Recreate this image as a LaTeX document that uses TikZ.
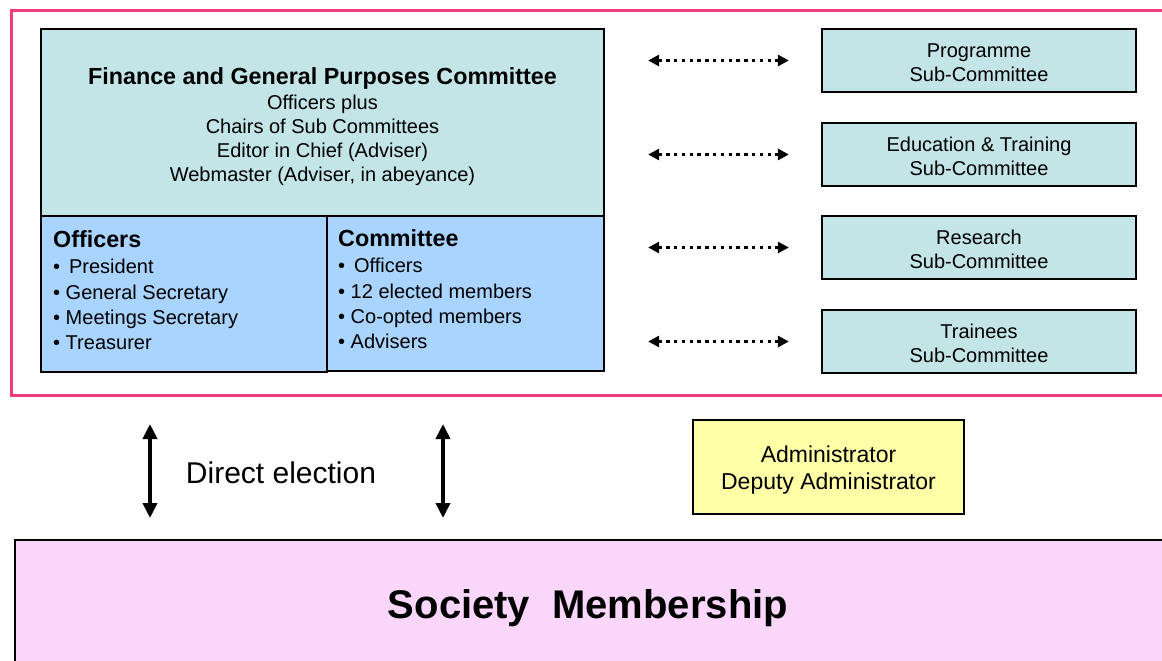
\documentclass[tikz,border=0pt]{standalone}
\usepackage{fontspec}
\setmainfont{Liberation Sans}
\usetikzlibrary{arrows.meta}
\definecolor{framepink}{RGB}{238,60,122}
\definecolor{teal}{RGB}{196,229,231}
\definecolor{lblue}{RGB}{168,212,255}
\definecolor{lyellow}{RGB}{255,255,168}
\definecolor{lpink}{RGB}{251,214,251}
\tikzset{
  box/.style={draw=black, line width=2.3pt, inner sep=0pt, align=center},
  tealbox/.style={box, fill=teal},
  bluebox/.style={box, fill=lblue},
  listtext/.style={inner sep=0pt, align=left, anchor=north west, font=\fontsize{20}{25.3}\selectfont},
  subtext/.style={font=\fontsize{20}{23.5}\selectfont},
  dotarrow/.style={line width=3.4pt, dash pattern=on 3.4pt off 4.4pt, {Triangle[length=11pt,width=11pt]}-{Triangle[length=11pt,width=11pt]}},
  vertarrow/.style={line width=4.5pt, {Triangle[length=15pt,width=14pt]}-{Triangle[length=15pt,width=14pt]}},
}
\begin{document}
\begin{tikzpicture}[x=1pt,y=-1pt]
\useasboundingbox (0,0) rectangle (1162,661);
% outer frame
\node[draw=framepink, line width=3pt, minimum width=1165pt, minimum height=385pt, inner sep=0pt, anchor=north west] (frame) at (10,9) {};
% main committee
\node[tealbox, minimum width=563pt, minimum height=187pt] (fgpc) at (322.5,122.5) {};
\node[font=\fontsize{20}{24.3}\selectfont, align=center, inner sep=0pt] (fgpctext) at (322.5,127)
  {{\bfseries\fontsize{23.3}{24.3}\selectfont Finance and General Purposes Committee}\\Officers plus\\Chairs of Sub Committees\\Editor in Chief (Adviser)\\Webmaster (Adviser, in abeyance)};
\node[bluebox, minimum width=286pt, minimum height=156pt] (officers) at (184,294) {};
\node[bluebox, minimum width=277pt, minimum height=155pt] (committee) at (465.5,293.5) {};
\node[listtext] (offtext) at (53,230)
  {{\bfseries\fontsize{23.3}{25}\selectfont Officers}\\[1.5pt]•\, President\\• General Secretary\\• Meetings Secretary\\• Treasurer};
\node[listtext] (comtext) at (338,229)
  {{\bfseries\fontsize{23.3}{25}\selectfont Committee}\\[1.5pt]•\, Officers\\• 12 elected members\\• Co-opted members\\• Advisers};
% sub-committees
\node[tealbox, minimum width=314pt, minimum height=63pt] (prog) at (979,60.5) {};
\node[tealbox, minimum width=314pt, minimum height=63pt] (edu) at (979,154.5) {};
\node[tealbox, minimum width=314pt, minimum height=63pt] (res) at (979,247.5) {};
\node[tealbox, minimum width=314pt, minimum height=63pt] (train) at (979,341.5) {};
\node[subtext, align=center, inner sep=0pt] (progtext) at ([yshift=-2pt]prog.center) {Programme\\Sub-Committee};
\node[subtext, align=center, inner sep=0pt] (edutext) at ([yshift=-2pt]edu.center) {Education \& Training\\Sub-Committee};
\node[subtext, align=center, inner sep=0pt] (restext) at ([yshift=-2pt]res.center) {Research\\Sub-Committee};
\node[subtext, align=center, inner sep=0pt] (traintext) at ([yshift=-2pt]train.center) {Trainees\\Sub-Committee};
\foreach \s in {prog,edu,res,train}{
  \draw[dotarrow, shorten <=43pt, shorten >=32pt] (fgpc.east |- \s.west) -- (\s.west);
}
% administrator
\node[box, fill=lyellow, minimum width=271pt, minimum height=94pt] (admin) at (828.5,467) {};
\node[font=\fontsize{23}{26.5}\selectfont, align=center, inner sep=0pt] (admintext) at (828.5,470) {Administrator\\Deputy Administrator};
% membership
\node[box, fill=lpink, minimum width=1156pt, minimum height=141pt, anchor=north west] (member) at (14,539) {};
\node[font=\bfseries\fontsize{40}{44}\selectfont, inner sep=0pt] (membertext) at (588,608) {Society\ \ Membership};
% direct election
\coordinate (va1top) at (150,424);
\coordinate (va1bot) at (150,518);
\coordinate (va2top) at (443,424);
\coordinate (va2bot) at (443,518);
\draw[vertarrow] (va1top) -- (va1bot);
\draw[vertarrow] (va2top) -- (va2bot);
\node[font=\fontsize{30}{32}\selectfont, inner sep=0pt] (elect) at (281,473) {Direct election};
\end{tikzpicture}
\end{document}
